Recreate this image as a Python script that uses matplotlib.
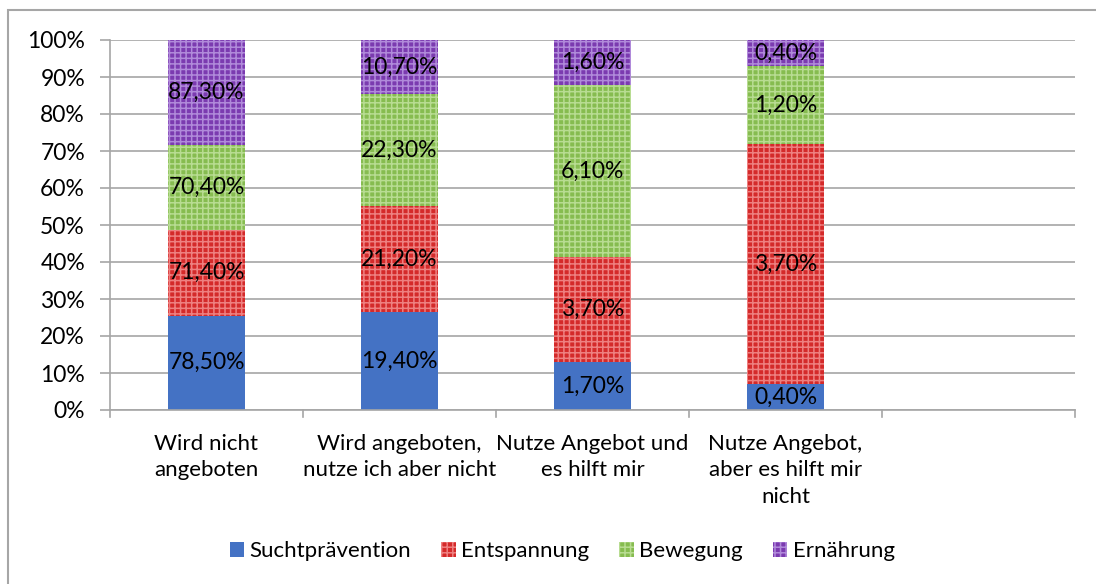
import matplotlib
matplotlib.use("Agg")
import matplotlib.pyplot as plt
import numpy as np
from matplotlib.patches import Rectangle

categories = ["Wird nicht\nangeboten", "Wird angeboten,\nnutze ich aber nicht",
              "Nutze Angebot und\nes hilft mir", "Nutze Angebot,\naber es hilft mir\nnicht"]
series_names = ["Suchtprävention", "Entspannung", "Bewegung", "Ernährung"]
sucht = [78.5, 19.4, 1.7, 0.4]
entsp = [71.4, 21.2, 3.7, 3.7]
beweg = [70.4, 22.3, 6.1, 1.2]
ernae = [87.3, 10.7, 1.6, 0.4]
yticks = [0, 10, 20, 30, 40, 50, 60, 70, 80, 90, 100]

face = ["#4472C4", "#D42A2A", "#86BC50", "#7B3BB0"]
hatchcol = [None, "#EE8080", "#B8DC92", "#B08ADA"]

plt.rcParams['font.family'] = ['Lato', 'DejaVu Sans']
plt.rcParams['hatch.linewidth'] = 1.1

fig = plt.figure(figsize=(10.96, 5.84), dpi=100)
ax = fig.add_axes([110/1096, 1-410/584, (1075-110)/1096, (410-40)/584])

data = np.array([sucht, entsp, beweg, ernae])
totals = data.sum(axis=0)
pct = data / totals * 100
x = np.arange(len(categories))
bottom = np.zeros(len(categories))
handles = []
for i, name in enumerate(series_names):
    if hatchcol[i]:
        kw = dict(hatch="+++", edgecolor=hatchcol[i])
    else:
        kw = dict(edgecolor=face[i])
    b = ax.bar(x, pct[i], 0.4, bottom=bottom, color=face[i], linewidth=0, label=name, **kw)
    handles.append(b)
    for j in range(len(categories)):
        ax.text(x[j], bottom[j] + pct[i][j] / 2, f"{data[i][j]:.2f}%".replace(".", ","),
                ha="center", va="center", fontsize=16.5, color="black")
    bottom += pct[i]

ax.set_xlim(-0.5, 4.5)
ax.set_ylim(0, 100)
ax.set_yticks(yticks)
ax.set_yticklabels([f"{v}%" for v in yticks], fontsize=16.5)
ax.yaxis.grid(True, color="#A6A6A6", linewidth=1.2)
ax.set_axisbelow(True)
ax.set_xticks(x)
ax.set_xticklabels(categories, fontsize=16, linespacing=1.42)
ax.tick_params(axis="x", length=0, pad=17)
ax.tick_params(axis="y", length=7, color="#A6A6A6", width=1.2, pad=11)
for xb in np.arange(-0.5, 4.6, 1):
    ax.plot([xb, xb], [0, -0.02], transform=ax.get_xaxis_transform(), color="#A6A6A6",
            lw=1.2, clip_on=False)
for s in ["top", "right"]:
    ax.spines[s].set_visible(False)
ax.spines["left"].set_color("#A6A6A6")
ax.spines["bottom"].set_color("#A6A6A6")
ax.spines["left"].set_linewidth(1.2)
ax.spines["bottom"].set_linewidth(1.2)

fig.legend(handles=handles, labels=series_names, loc="center", bbox_to_anchor=(0.513, 1-551/584),
           ncol=4, frameon=False, fontsize=16, handlelength=0.65, handleheight=0.65,
           columnspacing=1.35, handletextpad=0.25)

fig.patches.append(Rectangle((8/1096, -0.1), 1.2, 1 - 10/584 + 0.1, transform=fig.transFigure,
                             fill=False, edgecolor="#A6A6A6", linewidth=1.5))

fig.savefig("out.png", dpi=100)
